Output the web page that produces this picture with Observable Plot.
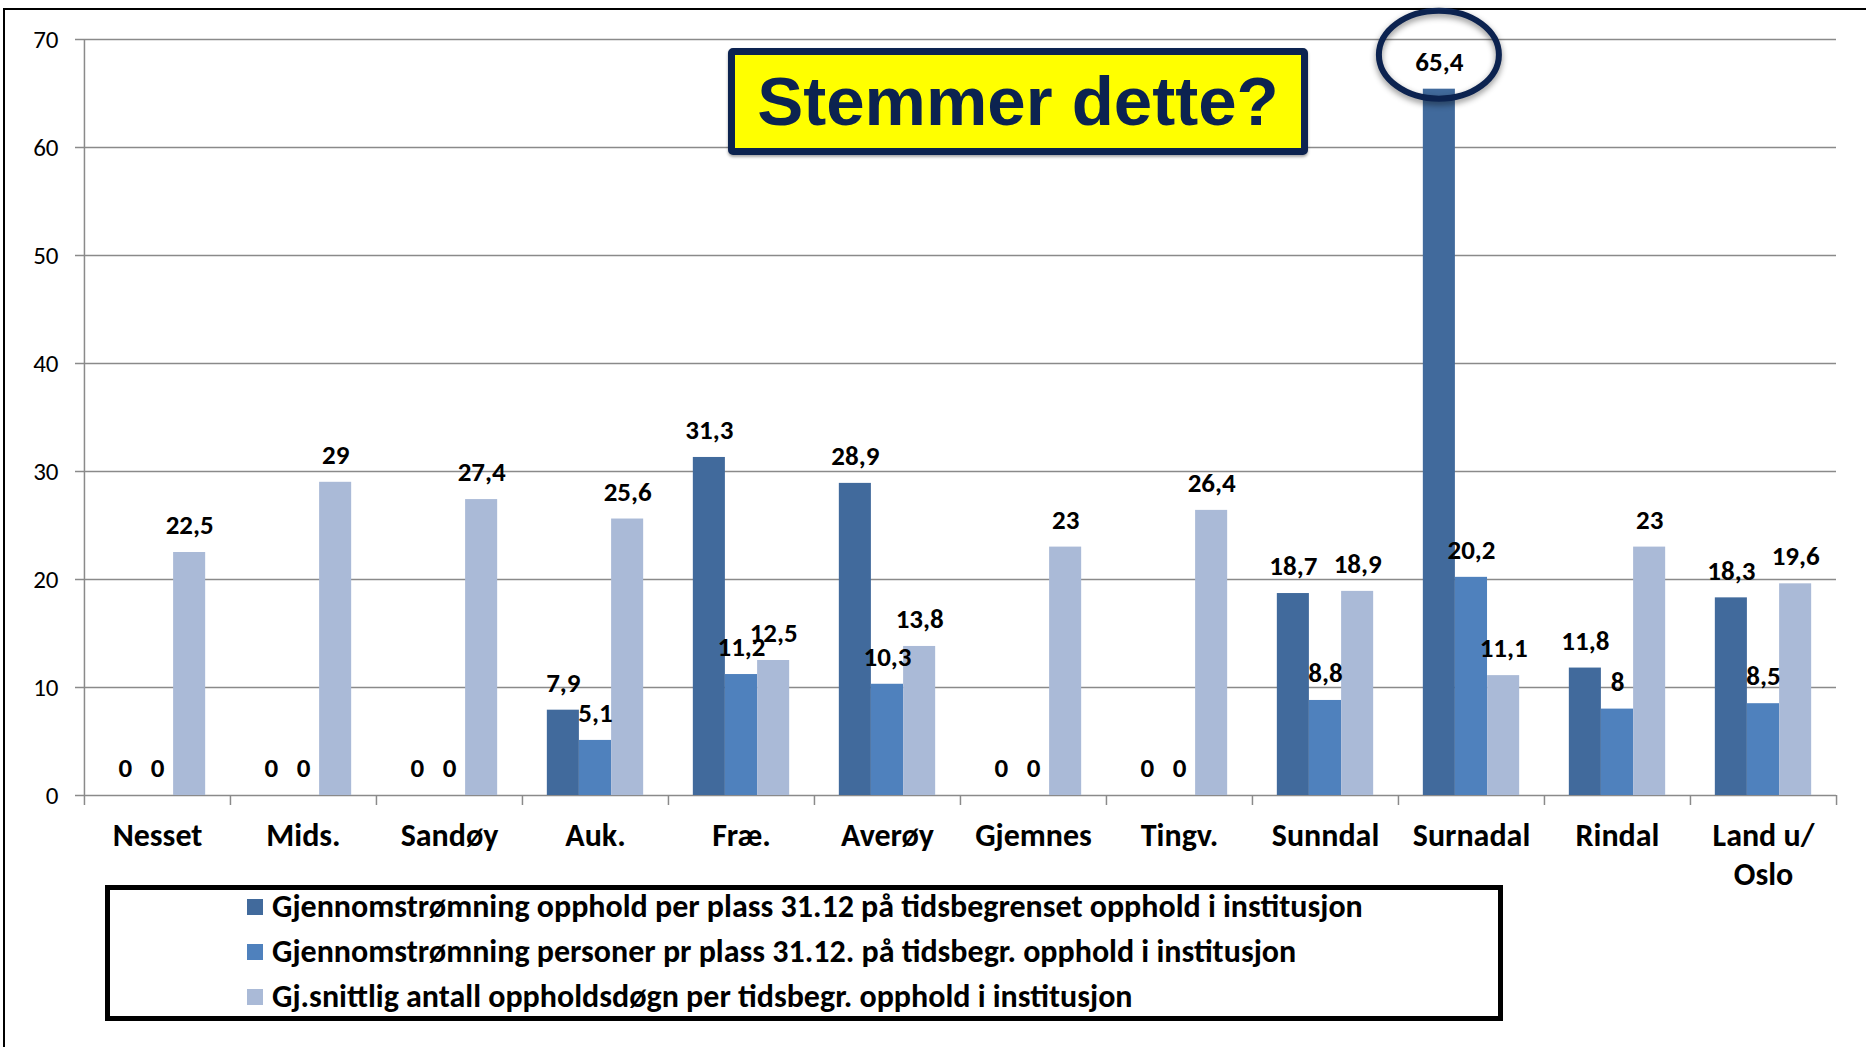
<!DOCTYPE html>
<html><head><meta charset="utf-8">
<script src="https://cdn.jsdelivr.net/npm/d3@7"></script>
<script src="https://cdn.jsdelivr.net/npm/@observablehq/plot@0.6"></script>
<style>
html,body{margin:0;padding:0;background:#fff;}
body{width:1866px;height:1047px;position:relative;overflow:hidden;font-family:Carlito,Lato,"Open Sans",sans-serif;}
#frame{position:absolute;left:3px;top:8px;width:1900px;height:1100px;border-top:2px solid #000;border-left:2px solid #000;}
#chart{position:absolute;left:0;top:0;}
#title{position:absolute;left:728px;top:48px;width:580px;height:107px;box-sizing:border-box;background:#ffff00;border:7px solid #0c2350;border-radius:5px;display:flex;align-items:center;justify-content:center;font:bold 69px "Liberation Sans",Arial,sans-serif;color:#0c2350;box-shadow:0 2px 3px rgba(0,0,0,0.35);}
#legend{position:absolute;left:105px;top:885px;width:1398px;height:136px;box-sizing:border-box;border:5px solid #000;}
.row{position:absolute;left:137px;height:40px;line-height:40px;font-weight:bold;font-size:32px;color:#000;white-space:nowrap;}
.sw{display:inline-block;width:16px;height:16px;margin-right:9px;vertical-align:middle;position:relative;top:-2px;}
</style></head>
<body>
<div id="frame"></div>
<div id="chart"></div>
<div id="title">Stemmer dette?</div>
<div id="legend"></div>
<script>
// ---- data ----
const categories = ["Nesset","Mids.","Sandøy","Auk.","Fræ.","Averøy","Gjemnes","Tingv.","Sunndal","Surnadal","Rindal","Land u/\nOslo"];
const seriesNames = [
  "Gjennomstrømning opphold per plass 31.12 på tidsbegrenset opphold i institusjon",
  "Gjennomstrømning personer pr plass 31.12. på tidsbegr. opphold i institusjon",
  "Gj.snittlig antall oppholdsdøgn per tidsbegr. opphold i institusjon"
];
const opphold   = [0, 0, 0, 7.9, 31.3, 28.9, 0, 0, 18.7, 65.4, 11.8, 18.3];
const personer  = [0, 0, 0, 5.1, 11.2, 10.3, 0, 0, 8.8, 20.2, 8, 8.5];
const dogn      = [22.5, 29, 27.4, 25.6, 12.5, 13.8, 23, 26.4, 18.9, 11.1, 23, 19.6];
const yTicks = [0, 10, 20, 30, 40, 50, 60, 70];
const colors = ["#416a9c", "#4f81bd", "#aabad7"];
const titleText = "Stemmer dette?";
const highlight = {category: "Surnadal", series: 0, value: 65.4};

// ---- layout ----
const W = 1866, H = 940, mL = 83, mR = 30, mT = 39, mB = 145;
const bw = (W - mL - mR) / categories.length;
const groupFrac = 0.66;
const barW = bw * groupFrac / 3;
const padL = bw * (1 - groupFrac) / 2;
const gridColor = "#8a8a8a";

const all = [opphold, personer, dogn];
const rows = categories.flatMap((c, i) => all.map((arr, k) => ({category: c, series: k, value: arr[i]})));
const fmt = v => String(v).replace(".", ",");

const marks = [];
marks.push(Plot.ruleY(yTicks, {y: d => d, stroke: gridColor, strokeWidth: 1.5, insetLeft: -8}));
marks.push(Plot.ruleX([categories[0]], {x: d => d, dx: -bw / 2, stroke: gridColor, strokeWidth: 1.5}));
marks.push(Plot.ruleX(categories, {x: d => d, dx: -bw / 2, y1: 0, y2: 0, insetBottom: -10, stroke: gridColor, strokeWidth: 1.5}));
marks.push(Plot.ruleX([categories[categories.length - 1]], {x: d => d, dx: bw / 2, y1: 0, y2: 0, insetBottom: -10, stroke: gridColor, strokeWidth: 1.5}));
for (let k = 0; k < 3; k++) {
  const il = padL + k * barW;
  marks.push(Plot.barY(rows.filter(d => d.series === k), {
    x: "category", y: "value", fill: colors[k],
    insetLeft: il, insetRight: bw - il - barW
  }));
}
for (let k = 0; k < 3; k++) {
  marks.push(Plot.text(rows.filter(d => d.series === k), {
    x: "category", y: "value", text: d => fmt(d.value),
    dx: (k - 1) * barW, dy: -27, fontSize: 27, fontWeight: "bold", fill: "#000"
  }));
}
marks.push(Plot.text(categories, {
  x: d => d, y: () => 0, dy: 23, lineAnchor: "top", lineHeight: 1.22,
  fontSize: 32, fontWeight: "bold", fill: "#000"
}));
// highlight ellipse around the label of the tallest bar
marks.push((index, scales) => {
  const cx = scales.x(highlight.category) + padL + highlight.series * barW + barW / 2;
  const cy = scales.y(highlight.value) - 34;
  const g = d3.create("svg:g");
  g.append("ellipse")
    .attr("cx", cx).attr("cy", cy).attr("rx", 60).attr("ry", 44)
    .attr("fill", "none").attr("stroke", "#0c2350").attr("stroke-width", 6)
    .style("filter", "drop-shadow(0px 3px 3px rgba(0,0,0,0.45))");
  return g.node();
});

const chart = Plot.plot({
  width: W, height: H,
  marginLeft: mL, marginRight: mR, marginTop: mT, marginBottom: mB,
  style: {fontFamily: "Carlito, Lato, 'Open Sans', sans-serif", fontSize: "25px", color: "#000", background: "transparent"},
  x: {domain: categories, padding: 0, axis: null},
  y: {domain: [0, 70], ticks: yTicks, tickSize: 0, tickPadding: 25, label: null},
  marks
});
document.getElementById("chart").appendChild(chart);

const leg = document.getElementById("legend");
const rowTops = [-3, 42, 87];
seriesNames.forEach((name, k) => {
  const r = document.createElement("div");
  r.className = "row";
  r.style.top = rowTops[k] + "px";
  r.innerHTML = `<span class="sw" style="background:${colors[k]}"></span>`;
  r.appendChild(document.createTextNode(name));
  leg.appendChild(r);
});
document.getElementById("title").textContent = titleText;
</script>
</body></html>
